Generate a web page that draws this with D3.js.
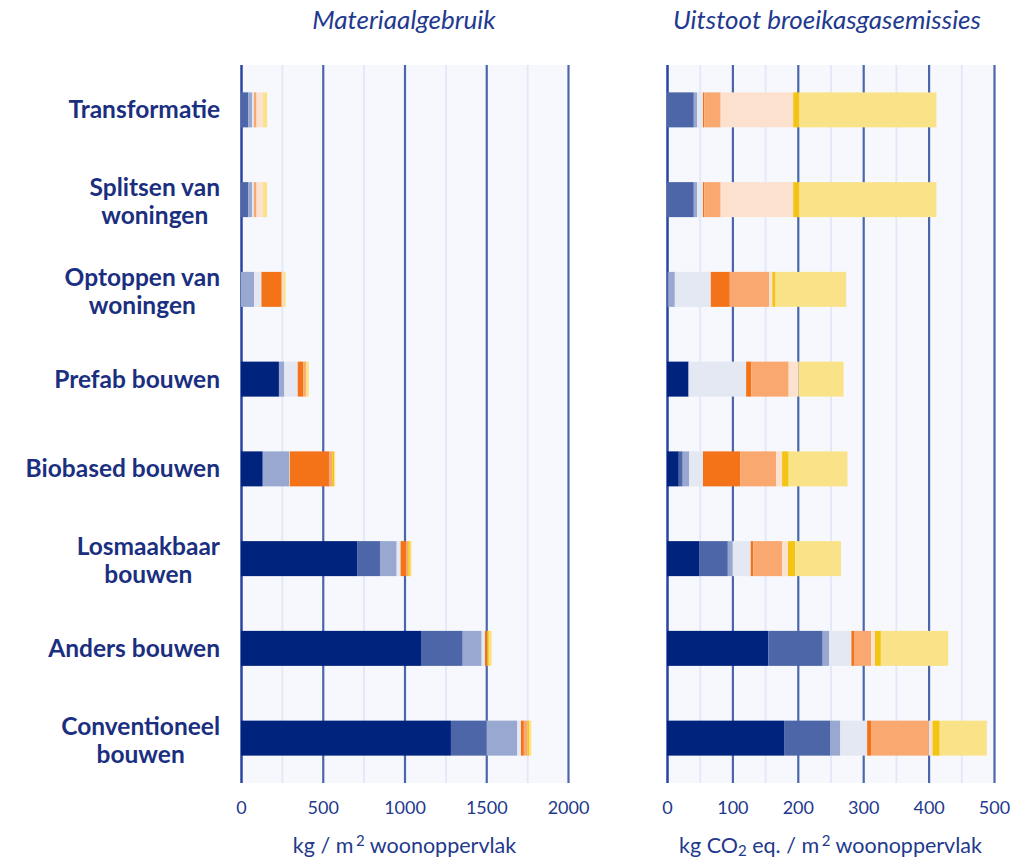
<!DOCTYPE html>
<html>
<head>
<meta charset="utf-8">
<script src="https://cdn.jsdelivr.net/npm/d3@7"></script>
<style>
  body { margin: 0; background: #fff; }
  text { font-family: Lato, "Open Sans", sans-serif; }
</style>
</head>
<body>
<svg id="chart" width="1013" height="865"></svg>
<script>
// Categories (top to bottom)
const categories = ["Transformatie", "Splitsen van woningen", "Optoppen van woningen", "Prefab bouwen",
    "Biobased bouwen", "Losmaakbaar bouwen", "Anders bouwen", "Conventioneel bouwen"];
const categoryLines = [["Transformatie"], ["Splitsen van", "woningen"], ["Optoppen van", "woningen"],
    ["Prefab bouwen"], ["Biobased bouwen"], ["Losmaakbaar", "bouwen"], ["Anders bouwen"], ["Conventioneel", "bouwen"]];

// Stack segments (left to right), no legend in the picture
const seriesKeys = ["s1", "s2", "s3", "s4", "s5", "s6", "s7", "s8", "s9"];
const seriesColors = ["#00247d", "#4c66a8", "#98a8d0", "#e4e8f3", "#f47218", "#f9a870", "#fde1cf", "#f4c414", "#fae288"];

// kg / m2 woonoppervlak, one row per category, one value per segment
const materiaalWaarden = [
    [0, 45, 24, 10, 0, 16, 40, 0, 25],
    [0, 45, 24, 10, 0, 16, 40, 0, 25],
    [0, 0, 80, 45, 120, 8, 5, 0, 15],
    [232, 0, 33, 82, 34, 16, 0, 0, 18],
    [133, 0, 161, 4, 240, 20, 0, 12, 6],
    [713, 137, 102, 24, 33, 14, 0, 10, 10],
    [1105, 251, 116, 20, 14, 0, 0, 10, 17],
    [1284, 218, 188, 22, 18, 22, 0, 10, 14]
];

// kg CO2 eq. / m2 woonoppervlak
const uitstootWaarden = [
    [0, 41, 5, 9, 2, 25, 111, 9, 210],
    [0, 41, 5, 9, 2, 25, 111, 9, 210],
    [0, 2, 10, 55, 29, 60, 5, 5, 108],
    [33, 0, 0, 88, 8, 57, 15, 0, 69],
    [18, 6, 10, 21, 57, 55, 9, 10, 90],
    [49, 44, 7, 28, 4, 44, 9, 11, 70],
    [155, 83, 10, 34, 4, 26, 6, 9, 103],
    [179, 71, 15, 41, 6, 88, 6, 11, 72]
];

const materiaalTicks = [0, 500, 1000, 1500, 2000];
const materiaalMinor = [250, 750, 1250, 1750];
const uitstootTicks = [0, 100, 200, 300, 400, 500];
const uitstootMinor = [50, 150, 250, 350, 450];

const svg = d3.select("#chart");
const plotTop = 65, plotBottom = 783;
const textColor = "#1b2f80";

const yScale = d3.scaleBand()
    .domain(categories)
    .range([plotTop, plotBottom])
    .paddingInner(0.61)
    .paddingOuter(0.305);

const stack = d3.stack().keys(seriesKeys);

function toRows(values) {
    return values.map((row, i) => {
        const o = { cat: categories[i] };
        seriesKeys.forEach((k, j) => o[k] = row[j]);
        return o;
    });
}

function drawPanel(values, xScale, majorTicks, minorTicks, title, axisTitle, titleX) {
    const g = svg.append("g");
    const [x0, x1] = xScale.range();

    // Background
    g.append("rect")
        .attr("x", x0)
        .attr("y", plotTop)
        .attr("width", x1 - x0)
        .attr("height", plotBottom - plotTop)
        .attr("fill", "#f6f8fd");

    // Minor gridlines
    g.append("g")
        .attr("transform", "translate(0," + plotBottom + ")")
        .call(d3.axisBottom(xScale).tickValues(minorTicks).tickSize(-(plotBottom - plotTop)).tickFormat(""))
        .call(a => a.select(".domain").remove())
        .selectAll("line").attr("stroke", "#e3e9f8").attr("stroke-width", 2);

    // Major gridlines
    g.append("g")
        .attr("transform", "translate(0," + plotBottom + ")")
        .call(d3.axisBottom(xScale).tickValues(majorTicks).tickSize(-(plotBottom - plotTop)).tickFormat(""))
        .call(a => a.select(".domain").remove())
        .selectAll("line")
        .attr("stroke", d => d === 0 ? "#2a45a0" : "#4c66ab")
        .attr("stroke-width", d => d === 0 ? 2.5 : 2.2);

    // Stacked bars
    const series = stack(toRows(values));
    g.selectAll(".serie")
        .data(series)
        .enter()
        .append("g")
        .attr("fill", (d, i) => seriesColors[i])
        .selectAll("rect")
        .data(d => d)
        .enter()
        .append("rect")
        .attr("x", d => xScale(d[0]))
        .attr("y", d => yScale(d.data.cat))
        .attr("width", d => Math.max(0, xScale(d[1]) - xScale(d[0])))
        .attr("height", yScale.bandwidth());

    // Tick labels
    g.append("g")
        .attr("transform", "translate(0," + plotBottom + ")")
        .call(d3.axisBottom(xScale).tickValues(majorTicks).tickSize(0).tickPadding(18).tickFormat(d3.format("d")))
        .call(a => a.select(".domain").remove())
        .selectAll("text")
        .style("font-family", "Lato, sans-serif")
        .style("font-size", "18px")
        .attr("fill", "#23398c");

    // Panel title
    g.append("text")
        .attr("x", titleX)
        .attr("y", 29)
        .attr("text-anchor", "middle")
        .style("font-size", "26px")
        .style("font-style", "italic")
        .attr("fill", "#1f3a8f")
        .text(title);

    // Axis title
    const t = g.append("text")
        .attr("x", (x0 + x1) / 2)
        .attr("y", 853)
        .attr("text-anchor", "middle")
        .style("font-size", "21.5px")
        .attr("fill", "#23398c");
    axisTitle.forEach(part => {
        const ts = t.append("tspan").text(part.text);
        if (part.shift) {
            ts.attr("baseline-shift", part.shift).style("font-size", "15px");
        }
    });
}

const xMateriaal = d3.scaleLinear().domain([0, 2000]).range([241, 568]);
const xUitstoot = d3.scaleLinear().domain([0, 500]).range([667, 994]);

drawPanel(materiaalWaarden, xMateriaal, materiaalTicks, materiaalMinor, "Materiaalgebruik",
    [{ text: "kg / m\u2009" }, { text: "2", shift: "7px" }, { text: " woonoppervlak" }], 404);
drawPanel(uitstootWaarden, xUitstoot, uitstootTicks, uitstootMinor, "Uitstoot broeikasgasemissies",
    [{ text: "kg CO" }, { text: "2", shift: "-3px" }, { text: " eq. / m\u2009" }, { text: "2", shift: "7px" }, { text: " woonoppervlak" }], 827);

// Category labels: block right-aligned, lines centred in the block
const labelRight = 220, lineHeight = 28;
categories.forEach((cat, i) => {
    const lines = categoryLines[i];
    const cy = yScale(cat) + yScale.bandwidth() / 2 + (lines.length > 1 ? 2 : 0);
    const txt = svg.append("text")
        .style("font-size", "24.5px")
        .style("font-weight", "bold")
        .attr("fill", textColor)
        .attr("text-anchor", "middle");
    const spans = lines.map((line, j) => txt.append("tspan")
        .attr("y", cy + (j - (lines.length - 1) / 2) * lineHeight)
        .attr("dy", "0.35em")
        .text(line));
    const maxW = d3.max(spans, s => s.node().getComputedTextLength());
    spans.forEach(s => s.attr("x", labelRight - maxW / 2));
});
</script>
</body>
</html>
